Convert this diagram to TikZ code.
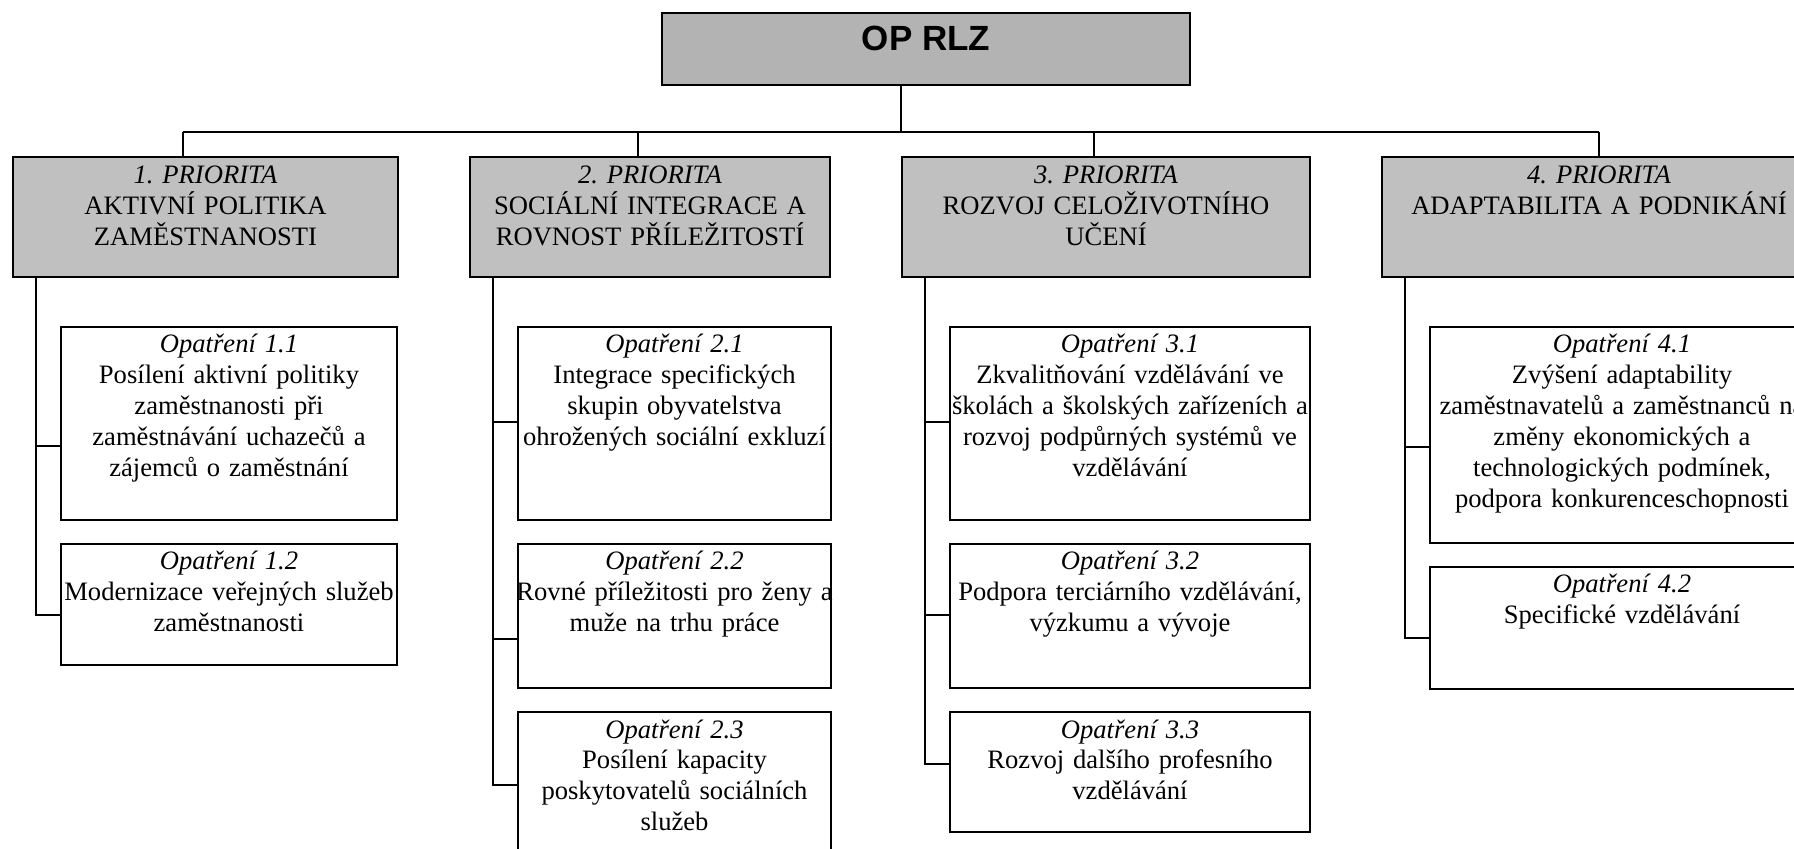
\documentclass[tikz,border=0pt]{standalone}
\usepackage{fontspec}
\setmainfont{Liberation Serif}
\newfontfamily\titlefont{Liberation Sans}
\usetikzlibrary{positioning, calc}
\definecolor{topgray}{HTML}{B3B3B3}
\definecolor{prigray}{HTML}{C0C0C0}
\frenchspacing

\begin{document}
\begin{tikzpicture}[
  x=0.5pt, y=-0.5pt,
  node distance=11pt,
  every node/.style={font=\fontsize{13.3pt}{15.5pt}\selectfont},
  topbox/.style={draw, line width=1pt, fill=topgray, anchor=north west, minimum width=264pt, inner sep=0pt, text height=19pt, text depth=17pt, font=\titlefont\bfseries\fontsize{17.5pt}{20pt}\selectfont},
  pri/.style={draw, line width=1pt, fill=prigray, align=center, inner sep=0pt, text width=#1, text height=13.5pt, text depth=46.5pt},
  sub/.style 2 args={draw, line width=1pt, align=center, inner sep=0pt, text width=#1, text height=13pt, text depth=#2},
  link/.style={line width=1pt}
]
\useasboundingbox (0,0) rectangle (1794,849);
\clip (0,0) rectangle (1794,849);

\node[topbox] (top) at (661,12) {OP RLZ};

\node[pri=192.5pt, anchor=north west] (p1) at (12,156) {\textit{1. PRIORITA}\\AKTIVNÍ POLITIKA\\ZAMĚSTNANOSTI};
\node[pri=180pt, right=35pt of p1] (p2) {\textit{2. PRIORITA}\\SOCIÁLNÍ INTEGRACE A\\ROVNOST PŘÍLEŽITOSTÍ};
\node[pri=204pt, right=35pt of p2] (p3) {\textit{3. PRIORITA}\\ROZVOJ CELOŽIVOTNÍHO\\UČENÍ};
\node[pri=217pt, right=35pt of p3] (p4) {\textit{4. PRIORITA}\\ADAPTABILITA A PODNIKÁNÍ};

\node[sub={168pt}{83.5pt}, below right=24pt and 24pt of p1.south west] (m11) {\textit{Opatření 1.1}\\Posílení aktivní politiky\\zaměstnanosti při\\zaměstnávání uchazečů a\\zájemců o zaměstnání};
\node[sub={168pt}{47.5pt}, below=of m11] (m12) {\textit{Opatření 1.2}\\Modernizace veřejných služeb\\zaměstnanosti};

\node[sub={156.5pt}{83.5pt}, below right=24pt and 24pt of p2.south west] (m21) {\textit{Opatření 2.1}\\Integrace specifických\\skupin obyvatelstva\\ohrožených sociální exkluzí};
\node[sub={156.5pt}{59pt}, below=of m21] (m22) {\textit{Opatření 2.2}\\\makebox[\linewidth]{Rovné příležitosti pro ženy a}\\muže na trhu práce};
\node[sub={156.5pt}{85pt}, below=of m22] (m23) {\textit{Opatření 2.3}\\Posílení kapacity\\poskytovatelů sociálních\\služeb};

\node[sub={180pt}{83.5pt}, below right=24pt and 24pt of p3.south west] (m31) {\textit{Opatření 3.1}\\Zkvalitňování vzdělávání ve\\\makebox[\linewidth]{školách a školských zařízeních a}\\rozvoj podpůrných systémů ve\\vzdělávání};
\node[sub={180pt}{59pt}, below=of m31] (m32) {\textit{Opatření 3.2}\\Podpora terciárního vzdělávání,\\výzkumu a vývoje};
\node[sub={180pt}{47pt}, below=of m32] (m33) {\textit{Opatření 3.3}\\Rozvoj dalšího profesního\\vzdělávání};

\node[sub={192pt}{95pt}, below right=24pt and 24pt of p4.south west] (m41) {\textit{Opatření 4.1}\\Zvýšení adaptability\\zaměstnavatelů a zaměstnanců na\\změny ekonomických a\\technologických podmínek,\\podpora konkurenceschopnosti};
\node[sub={192pt}{48pt}, below=of m41] (m42) {\textit{Opatření 4.2}\\Specifické vzdělávání};

\coordinate (c1) at ($(p1.north)+(-23,-24)$);
\coordinate (c2) at ($(p2.north)+(-12,-24)$);
\coordinate (c3) at ($(p3.north)+(-12,-24)$);
\coordinate (c4) at ($(p4.north)+(0,-24)$);
\draw[link] (top.south -| p3.west) -- (c1 -| p3.west);
\draw[link] (c1) -- (c4);
\draw[link] (c1) -- (c1 |- p1.north);
\draw[link] (c2) -- (c2 |- p2.north);
\draw[link] (c3) -- (c3 |- p3.north);
\draw[link] (c4) -- (c4 |- p4.north);

\coordinate[right=12pt of p1.south west] (s1);
\coordinate[right=12pt of p2.south west] (s2);
\coordinate[right=12pt of p3.south west] (s3);
\coordinate[right=12pt of p4.south west] (s4);

\coordinate (t11) at ($(m11.north west)+(0,120)$);
\coordinate (t12) at ($(m12.north west)+(0,72)$);
\coordinate (t21) at ($(m21.north west)+(0,96)$);
\coordinate (t22) at ($(m22.north west)+(0,96)$);
\coordinate (t23) at ($(m23.north west)+(0,74)$);
\coordinate (t31) at ($(m31.north west)+(0,96)$);
\coordinate (t32) at ($(m32.north west)+(0,72)$);
\coordinate (t33) at ($(m33.north west)+(0,53)$);
\coordinate (t41) at ($(m41.north west)+(0,121)$);
\coordinate (t42) at ($(m42.north west)+(0,72)$);

\draw[link] (s1) -- (s1 |- t12) -- (t12);
\draw[link] (s1 |- t11) -- (t11);
\draw[link] (s2) -- (s2 |- t23) -- (t23);
\draw[link] (s2 |- t21) -- (t21);
\draw[link] (s2 |- t22) -- (t22);
\draw[link] (s3) -- (s3 |- t33) -- (t33);
\draw[link] (s3 |- t31) -- (t31);
\draw[link] (s3 |- t32) -- (t32);
\draw[link] (s4) -- (s4 |- t42) -- (t42);
\draw[link] (s4 |- t41) -- (t41);
\end{tikzpicture}
\end{document}
